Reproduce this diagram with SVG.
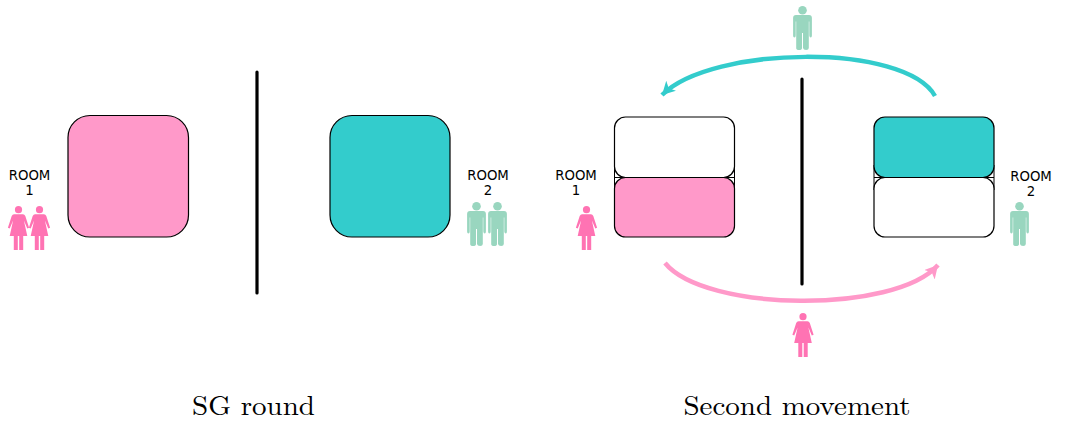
<svg xmlns="http://www.w3.org/2000/svg" width="1066" height="426" viewBox="0 0 1066 426">
<style>
.room{stroke:#000;stroke-width:1.2}
.tick{stroke:#000;stroke-width:1;fill:none}
.pink{fill:#ff99c9}
.teal{fill:#33cccc}
.white{fill:#fff}
.wall{stroke:#000;stroke-width:3.2;stroke-linecap:round;fill:none}
.lab{font-family:"DejaVu Sans",sans-serif;font-size:13.300px;fill:#000;text-anchor:middle}
.cap{font-family:"Latin Modern Roman","Liberation Serif",serif;font-size:28px;fill:#000;text-anchor:middle}
.woman{fill:#ff73b3}
.man{fill:#99d6bf}
</style>
<defs>
<g id="woman">
<circle cx="0" cy="3.700" r="3.600"/>
<path d="M-4.500 8.300H4.500Q6 8.300 6.800 10L10.600 21.800 8.800 22.600 5.400 14.500 8.800 30H4.700V44H0.700V30H-0.700V44H-4.700V30H-8.800L-5.400 14.500-8.800 22.600-10.600 21.800-6.800 10Q-6 8.300-4.500 8.300Z"/>
</g>
<g id="man">
<circle cx="0" cy="4.200" r="4.300"/>
<path d="M-6.500 9H6.500Q9.400 9 9.400 12V29.500Q9.400 31.500 8.200 31.500T6.800 29.500V15.500H6.300V42Q6.300 44 3.600 44T0.500 42V27H-0.500V42Q-0.500 44-3.400 44T-6.300 42V15.500H-6.800V29.500Q-6.800 31.500-8.100 31.500T-9.400 29.500V12Q-9.400 9-6.500 9Z"/>
</g>
<marker id="tealHead" markerUnits="userSpaceOnUse" markerWidth="16" markerHeight="16" refX="13" refY="7" orient="auto"><path d="M0 0L13 7 0 14 3.500 7Z" fill="#33cccc"/></marker>
<marker id="pinkHead" markerUnits="userSpaceOnUse" markerWidth="16" markerHeight="16" refX="13" refY="7" orient="auto"><path d="M0 0L13 7 0 14 3.500 7Z" fill="#ff99c9"/></marker>
</defs>
<g id="connectors" fill="none">
<path d="M935 96C905 43 712 45 662 95" stroke="#33cccc" stroke-width="4.500" marker-end="url(#tealHead)"/>
<path d="M665 263C705 312 895 314 938 265" stroke="#ff99c9" stroke-width="4.500" marker-end="url(#pinkHead)"/>
</g>
<g id="wall-left"><path class="wall" d="M257 72V293"/></g>
<g id="wall-right"><path class="wall" d="M802 79V284"/></g>
<g id="room1-sg"><rect class="room pink" x="68" y="115.500" width="120.500" height="121.500" rx="22"/></g>
<g id="room2-sg"><rect class="room teal" x="330" y="115.500" width="120" height="121.500" rx="22"/></g>
<g id="room1-second">
<path class="tick" d="M614.500 165V190M734.500 165V190M614.500 177.500H734.500"/>
<rect class="room white" x="614.500" y="117" width="120" height="60.500" rx="11"/>
<rect class="room pink" x="614.500" y="177.500" width="120" height="59.500" rx="11"/>
</g>
<g id="room2-second">
<path class="tick" d="M874 165V190M994 165V190M874 177.500H994"/>
<rect class="room white" x="874" y="177.500" width="120" height="59.500" rx="11"/>
<rect class="room teal" x="874" y="117" width="120" height="60.500" rx="11"/>
</g>
<g id="label-room1-left"><text class="lab" x="29.500" y="180">ROOM</text><text class="lab" x="29.500" y="195">1</text></g>
<g id="label-room2-left"><text class="lab" x="488" y="180">ROOM</text><text class="lab" x="488" y="195">2</text></g>
<g id="label-room1-right"><text class="lab" x="576" y="180">ROOM</text><text class="lab" x="576" y="195">1</text></g>
<g id="label-room2-right"><text class="lab" x="1031" y="181">ROOM</text><text class="lab" x="1031" y="196">2</text></g>
<g id="people">
<use href="#woman" class="woman" x="18.500" y="206"/>
<use href="#woman" class="woman" x="39.500" y="206"/>
<use href="#man" class="man" x="476.500" y="202"/>
<use href="#man" class="man" x="497.500" y="202"/>
<use href="#woman" class="woman" x="586.500" y="206"/>
<use href="#man" class="man" x="1019.500" y="202"/>
<use href="#man" class="man" x="802.500" y="6"/>
<use href="#woman" class="woman" x="803" y="313"/>
</g>
<g id="captions">
<text class="cap" x="253.500" y="415" textLength="123" lengthAdjust="spacingAndGlyphs">SG round</text>
<text class="cap" x="797" y="415" textLength="227" lengthAdjust="spacingAndGlyphs">Second movement</text>
</g>
</svg>
